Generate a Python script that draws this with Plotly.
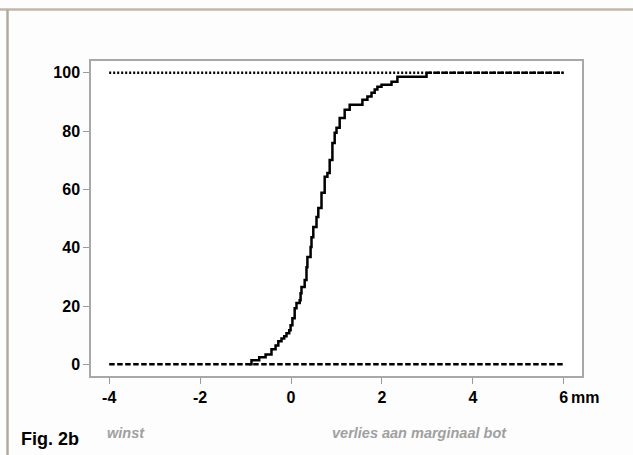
import plotly.graph_objects as go

# --- data ---
ecdf_x = [-0.92, -0.87, -0.70, -0.56, -0.43, -0.34, -0.28, -0.21, -0.15, -0.10,
          -0.04, -0.01, 0.03, 0.08, 0.12, 0.19, 0.21, 0.23, 0.30, 0.34,
          0.36, 0.43, 0.45, 0.49, 0.56, 0.60, 0.67, 0.74, 0.80, 0.85,
          0.91, 0.96, 1.00, 1.07, 1.18, 1.29, 1.57, 1.68, 1.77, 1.84,
          1.90, 1.99, 2.21, 2.34, 2.98]
ecdf_y = [0, 1.4, 2.4, 3.4, 5.2, 6.5, 7.9, 8.9, 9.6, 10.7,
          11.7, 13.4, 15.8, 19.2, 21.0, 22.0, 24.4, 26.5, 28.9, 33.3,
          36.8, 40.2, 43.6, 47.1, 50.5, 53.6, 58.8, 64.3, 65.6, 70.1,
          75.9, 79.4, 81.1, 84.5, 87.3, 89.0, 90.7, 91.8, 93.1, 94.2,
          95.2, 95.9, 96.9, 98.6, 100]
ref_x = [-4, 6]
lower_y = [0, 0]
upper_y = [100, 100]
tail_x = [2.98, 6]
tail_y = [100, 100]
x_ticks = [-4, -2, 0, 2, 4, 6]
x_tick_labels = ["-4", "-2", "0", "2", "4", "6"]
y_ticks = [0, 20, 40, 60, 80, 100]
y_tick_labels = ["0", "20", "40", "60", "80", "100"]

# pixel geometry helpers (plot area: x 91..582, y 61..376)
L, R, T, B = 91, 582, 61, 376
W, H = 633, 455
def px(x):
    return (x - L) / (R - L)
def py(y):
    return (B - y) / (B - T)

fig = go.Figure()
fig.add_trace(go.Scatter(x=ref_x, y=upper_y, mode="lines",
                         line=dict(color="black", width=2.5, dash="2px,2px"),
                         showlegend=False, hoverinfo="skip"))
fig.add_trace(go.Scatter(x=ref_x, y=lower_y, mode="lines",
                         line=dict(color="black", width=2.5, dash="5.5px,2.5px"),
                         showlegend=False, hoverinfo="skip"))
fig.add_trace(go.Scatter(x=tail_x, y=tail_y, mode="lines",
                         line=dict(color="black", width=2.5, dash="5.5px,2.5px"),
                         showlegend=False, hoverinfo="skip"))
fig.add_trace(go.Scatter(x=ecdf_x, y=ecdf_y, mode="lines",
                         line=dict(color="black", width=2.5, shape="hv"),
                         showlegend=False, hoverinfo="skip"))

tickfont = dict(family="Liberation Sans, Arial, sans-serif", size=16,
                color="black", weight="bold")
fig.update_xaxes(range=[-4.4, 6.4], tickmode="array", tickvals=x_ticks,
                 ticktext=x_tick_labels, ticks="outside", ticklen=6,
                 tickcolor="#9a9a9a", tickwidth=1, showline=True, mirror=True,
                 linecolor="#a8a8a8", linewidth=1.5, showgrid=False,
                 zeroline=False, tickfont=tickfont)
fig.update_yaxes(range=[-4, 104], tickmode="array", tickvals=y_ticks,
                 ticktext=y_tick_labels, ticks="outside", ticklen=6,
                 tickcolor="#9a9a9a", tickwidth=1, showline=True, mirror=True,
                 linecolor="#a8a8a8", linewidth=1.5, showgrid=False,
                 zeroline=False, tickfont=tickfont)

annotations = [
    dict(x=6, y=0, xref="x", yref="paper", text="mm", showarrow=False,
         xanchor="left", yanchor="top", xshift=5, yshift=-11,
         font=tickfont),
    dict(x=px(19), y=py(439), xref="paper", yref="paper", text="<b>Fig. 2b</b>",
         showarrow=False, xanchor="left", yanchor="middle",
         font=dict(family="Liberation Sans Narrow, Arial Narrow, Liberation Sans, sans-serif",
                   size=18, color="black")),
    dict(x=px(105), y=py(433), xref="paper", yref="paper", text="<b><i>winst</i></b>",
         showarrow=False, xanchor="left", yanchor="middle",
         font=dict(family="Liberation Sans, Arial, sans-serif", size=14.5, color="#a0a0a0")),
    dict(x=px(330), y=py(433), xref="paper", yref="paper",
         text="<b><i>verlies aan marginaal bot</i></b>",
         showarrow=False, xanchor="left", yanchor="middle",
         font=dict(family="Liberation Sans, Arial, sans-serif", size=14.5, color="#a0a0a0")),
]

shapes = [
    dict(type="line", xref="paper", yref="paper", x0=px(0), x1=px(W),
         y0=py(9.5), y1=py(9.5), line=dict(color="#c2b6aa", width=2.5)),
    dict(type="line", xref="paper", yref="paper", x0=px(7.5), x1=px(7.5),
         y0=py(9.5), y1=py(H), line=dict(color="#b4a99e", width=2.5)),
]

fig.update_layout(width=W, height=H, margin=dict(l=L, r=W - R, t=T, b=H - B),
                  paper_bgcolor="#fdfdfd", plot_bgcolor="white",
                  annotations=annotations, shapes=shapes)
fig.write_html("out.html", config={"displayModeBar": False},
               post_script="document.body.style.margin='0';document.body.style.overflow='hidden';")
